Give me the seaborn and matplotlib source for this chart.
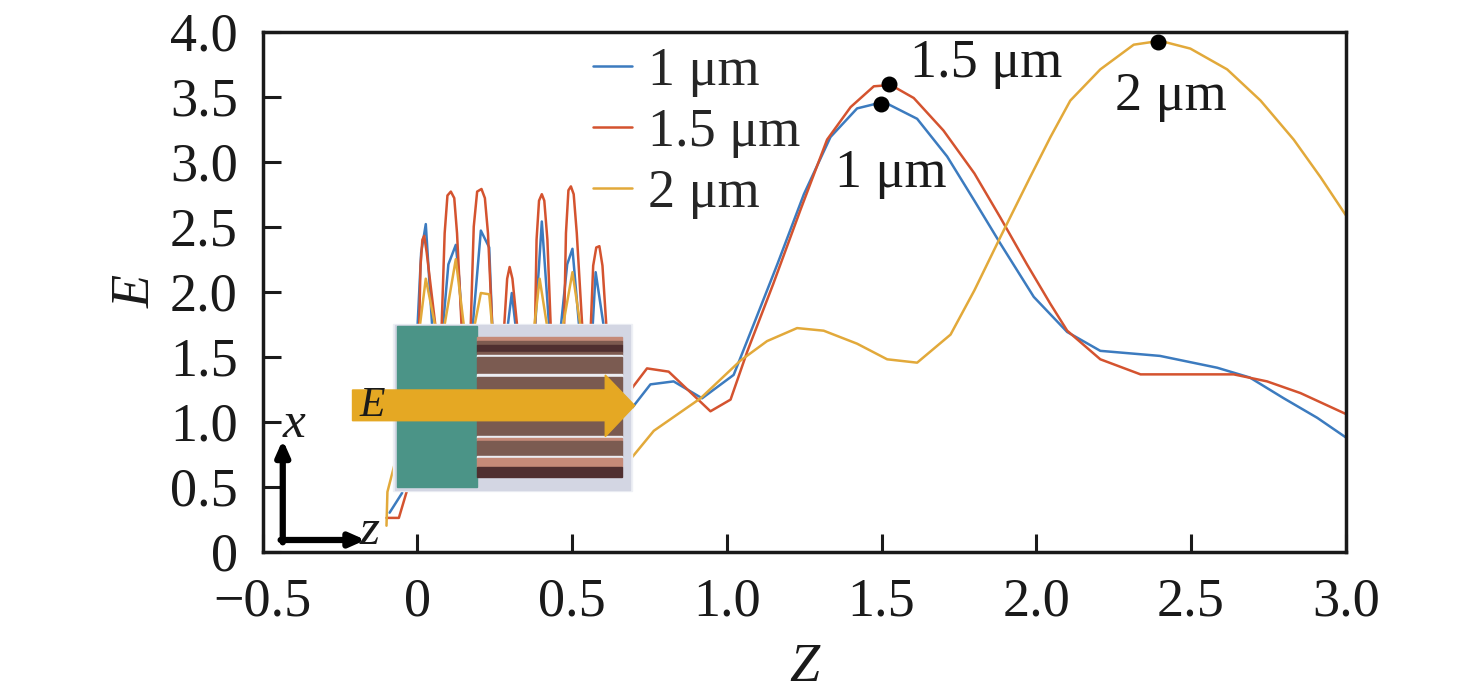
import numpy as np
import pandas as pd
import matplotlib
matplotlib.use('Agg')
import matplotlib.pyplot as plt
from matplotlib.patches import Rectangle, Polygon
import seaborn as sns

# curve data (z in um, E field amplitude)
z_1um = [-0.09, -0.05, -0.02, 0.0, 0.012, 0.027, 0.038, 0.048, 0.065, 0.082, 0.10, 0.124, 0.135,
         0.145, 0.16, 0.178, 0.205, 0.232, 0.242, 0.265, 0.291, 0.305, 0.318, 0.35, 0.380, 0.402,
         0.426, 0.445, 0.463, 0.484, 0.501, 0.523, 0.545, 0.566, 0.576, 0.603, 0.65, 0.694, 0.753,
         0.828, 0.92, 1.022, 1.087, 1.163, 1.249, 1.335, 1.421, 1.507, 1.615, 1.712, 1.80, 1.884,
         1.992, 2.10, 2.207, 2.40, 2.585, 2.69, 2.80, 2.908, 3.0]
E_1um = [0.30, 0.45, 0.9, 1.72, 2.3, 2.52, 2.1, 1.72, 1.2, 1.72, 2.21, 2.36, 2.1,
         1.72, 1.2, 1.72, 2.47, 2.34, 1.72, 1.2, 1.72, 1.99, 1.72, 1.2, 1.72, 2.54,
         1.72, 1.2, 1.72, 2.21, 2.33, 1.72, 1.2, 1.72, 2.15, 1.72, 1.0, 1.107, 1.287,
         1.31, 1.18, 1.36, 1.75, 2.21, 2.75, 3.19, 3.41, 3.46, 3.33, 3.04, 2.70, 2.37,
         1.96, 1.69, 1.545, 1.506, 1.415, 1.34, 1.18, 1.03, 0.88]

z_15um = [-0.10, -0.06, -0.035, -0.015, 0.0055, 0.010, 0.016, 0.022, 0.030, 0.059, 0.068, 0.078,
          0.088, 0.097, 0.108, 0.119, 0.128, 0.143, 0.158, 0.172, 0.182, 0.193, 0.207, 0.218,
          0.228, 0.242, 0.262, 0.280, 0.290, 0.298, 0.307, 0.323, 0.35, 0.380, 0.385, 0.393,
          0.402, 0.41, 0.42, 0.431, 0.452, 0.474, 0.480, 0.488, 0.496, 0.505, 0.515, 0.533,
          0.546, 0.560, 0.568, 0.578, 0.588, 0.598, 0.611, 0.64, 0.694, 0.742, 0.812, 0.947,
          1.012, 1.066, 1.15, 1.238, 1.324, 1.40, 1.475, 1.53, 1.604, 1.70, 1.80, 1.884, 1.97,
          2.046, 2.10, 2.207, 2.337, 2.477, 2.638, 2.746, 2.854, 3.0]
E_15um = [0.26, 0.26, 0.46, 1.0, 1.72, 2.2, 2.40, 2.43, 2.3, 1.72, 1.2, 1.72,
          2.45, 2.74, 2.77, 2.72, 2.45, 1.72, 1.2, 1.72, 2.5, 2.77, 2.79, 2.72,
          2.45, 1.72, 1.2, 1.72, 2.1, 2.19, 2.1, 1.72, 1.2, 1.72, 2.4, 2.70,
          2.75, 2.70, 2.4, 1.72, 1.2, 1.72, 2.45, 2.78, 2.81, 2.75, 2.45, 1.72,
          1.2, 1.72, 2.2, 2.34, 2.35, 2.2, 1.72, 1.1, 1.26, 1.41, 1.385, 1.08,
          1.17, 1.54, 2.06, 2.63, 3.17, 3.42, 3.58, 3.59, 3.49, 3.24, 2.91, 2.57, 2.21,
          1.905, 1.70, 1.48, 1.364, 1.364, 1.364, 1.31, 1.22, 1.06]

z_2um = [-0.10, -0.097, -0.06, -0.02, 0.007, 0.027, 0.059, 0.07, 0.086, 0.124, 0.151, 0.165,
         0.183, 0.205, 0.232, 0.242, 0.27, 0.305, 0.34, 0.377, 0.395, 0.420, 0.445, 0.469,
         0.501, 0.528, 0.55, 0.576, 0.62, 0.695, 0.764, 0.915, 1.044, 1.13, 1.227, 1.313,
         1.421, 1.518, 1.615, 1.723, 1.80, 1.884, 1.98, 2.046, 2.11, 2.207, 2.315, 2.40,
         2.498, 2.617, 2.725, 2.832, 2.919, 3.0]
E_2um = [0.20, 0.46, 0.8, 1.2, 1.72, 2.10, 1.72, 1.3, 1.72, 2.25, 1.72, 1.3,
         1.72, 1.99, 1.98, 1.72, 1.3, 1.6, 1.3, 1.72, 2.10, 1.72, 1.3, 1.72,
         2.15, 1.72, 1.3, 1.6, 1.2, 0.73, 0.93, 1.18, 1.47, 1.62, 1.72, 1.70,
         1.60, 1.48, 1.454, 1.67, 2.01, 2.42, 2.88, 3.19, 3.47, 3.71, 3.90, 3.93,
         3.87, 3.71, 3.47, 3.17, 2.88, 2.59]

series_labels = ['1 μm', '1.5 μm', '2 μm']
series_colors = ['#3c7bbf', '#d4532f', '#e2a93a']

# marked peaks
peak_z = [1.497, 1.523, 2.395]
peak_E = [3.44, 3.60, 3.92]
peak_text = ['1 μm', '1.5 μm', '2 μm']
peak_text_pos = [(1.351, 2.805), (1.593, 3.655), (2.256, 3.40)]

x_ticks = [-0.5, 0, 0.5, 1.0, 1.5, 2.0, 2.5, 3.0]
x_ticklabels = ['\u22120.5', '0', '0.5', '1.0', '1.5', '2.0', '2.5', '3.0']
y_ticks = [0, 0.5, 1.0, 1.5, 2.0, 2.5, 3.0, 3.5, 4.0]
y_ticklabels = ['0', '0.5', '1.0', '1.5', '2.0', '2.5', '3.0', '3.5', '4.0']

df = pd.concat([
    pd.DataFrame({'z': z_1um, 'E': E_1um, 'width': series_labels[0]}),
    pd.DataFrame({'z': z_15um, 'E': E_15um, 'width': series_labels[1]}),
    pd.DataFrame({'z': z_2um, 'E': E_2um, 'width': series_labels[2]}),
], ignore_index=True)

sns.set_style('white')
plt.rcParams['font.family'] = ['Liberation Serif', 'DejaVu Serif']
ink = '#1a1a1a'

fig = plt.figure(figsize=(14.76, 6.95), dpi=100)
ax = fig.add_axes([0.178, 0.2062, 0.7337, 0.7482])

sns.lineplot(data=df, x='z', y='E', hue='width', palette=dict(zip(series_labels, series_colors)),
             sort=False, estimator=None, linewidth=1.8, ax=ax)

ax.scatter(peak_z, peak_E, s=110, color='black', zorder=5)
for txt, (tx, ty) in zip(peak_text, peak_text_pos):
    ax.text(tx, ty, txt, fontsize=39, color=ink, ha='left', va='baseline')

ax.set_xlim(-0.5, 3.0)
ax.set_ylim(0, 4.0)
ax.set_xticks(x_ticks)
ax.set_xticklabels(x_ticklabels)
ax.set_yticks(y_ticks)
ax.set_yticklabels(y_ticklabels)
ax.tick_params(direction='in', length=13, width=2.2, labelsize=39, colors=ink, pad=18,
               bottom=True, left=True, top=False, right=False)
for sp in ax.spines.values():
    sp.set_linewidth(2.5)
    sp.set_color(ink)
    sp.set_visible(True)
ax.set_xlabel('Z', fontsize=39, fontstyle='italic', color=ink, labelpad=11)
ax.set_ylabel('E', fontsize=39, fontstyle='italic', color=ink, labelpad=6)

handles, labels = ax.get_legend_handles_labels()
ax.legend(handles, labels, loc='upper left', bbox_to_anchor=(0.305, 0.972), frameon=False,
          fontsize=39, handlelength=0.72, handletextpad=0.3, labelspacing=0.2, borderpad=0,
          borderaxespad=0)

# ---- schematic of the structure (drawn over the curves, axes fraction coords) ----
tr = ax.transAxes
ax.add_patch(Rectangle((0.120, 0.116), 0.221, 0.322, transform=tr, color='#eef0f5', zorder=6))
ax.add_patch(Rectangle((0.122, 0.119), 0.217, 0.317, transform=tr, color='#d3d6e3', zorder=6))
ax.add_patch(Rectangle((0.1237, 0.1238), 0.0744, 0.3102, transform=tr, color='#4b9487', zorder=7))

# layers of the stack: (top px, bottom px, colour)
layers = [(336.7, 341, '#c58a78'), (341, 345, '#7d5a50'), (345, 352, '#4f2f30'),
          (352, 355, '#7d5a50'), (355, 357, '#eceef3'), (357, 374, '#7b5b51'),
          (374, 377, '#eceef3'), (377, 436, '#7a5a50'), (436, 438, '#eceef3'),
          (438, 441, '#c58a78'), (441, 456, '#7b5b51'), (456, 458, '#eceef3'),
          (458, 466.7, '#c58a78'), (466.7, 476.7, '#4f2f30')]
for top, bot, c in layers:
    y0 = (551.7 - bot) / 520
    h = (bot - top) / 520
    ax.add_patch(Rectangle((0.1981, y0), 0.134, h, transform=tr, color=c, zorder=7))

arrow = Polygon([(0.0829, 0.2519), (0.3163, 0.2519), (0.3163, 0.2212), (0.3435, 0.281),
                 (0.3163, 0.3398), (0.3163, 0.311), (0.0829, 0.311)],
                closed=True, transform=tr, color='#e5a823', zorder=8)
ax.add_patch(arrow)
ax.text(0.101, 0.281, 'E', transform=tr, fontsize=30, fontstyle='italic', color=ink,
        ha='center', va='center', zorder=9)

# x-z coordinate arrows
ax.annotate('', xy=(0.0185, 0.215), xytext=(0.0185, 0.018), xycoords=tr, textcoords=tr,
            arrowprops=dict(arrowstyle='-|>,head_length=0.9,head_width=0.4', lw=4.5, color='black',
                            shrinkA=0, shrinkB=0), zorder=9)
ax.annotate('', xy=(0.095, 0.0225), xytext=(0.0165, 0.0225), xycoords=tr, textcoords=tr,
            arrowprops=dict(arrowstyle='-|>,head_length=0.9,head_width=0.4', lw=4.5, color='black',
                            shrinkA=0, shrinkB=0), zorder=9)
ax.text(0.0286, 0.244, 'x', transform=tr, fontsize=37, fontstyle='italic', color=ink,
        ha='center', va='center', zorder=9)
ax.text(0.099, 0.038, 'z', transform=tr, fontsize=37, fontstyle='italic', color=ink,
        ha='center', va='center', zorder=9)

fig.savefig('out.png', dpi=100)
